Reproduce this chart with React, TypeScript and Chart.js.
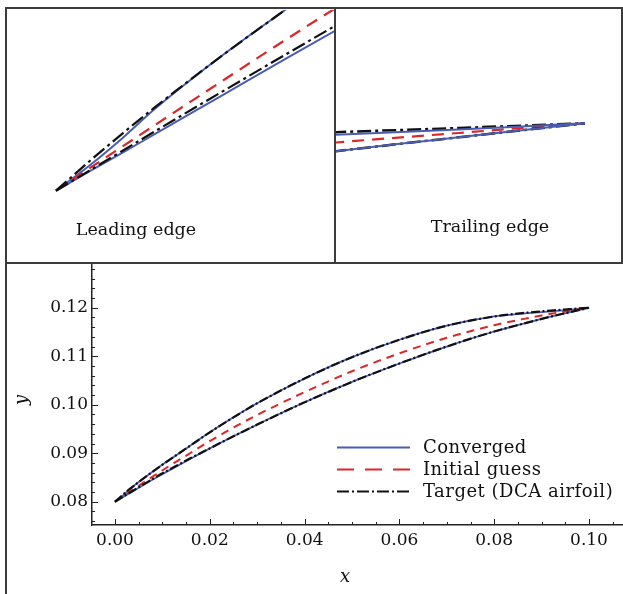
import React, { useEffect, useRef } from "react";
import { Chart, registerables } from "chart.js";

Chart.register(...registerables);

// ---------------- data ----------------
const xs = [0, 0.001, 0.002, 0.003, 0.005, 0.007, 0.009, 0.012, 0.016, 0.02, 0.025, 0.03, 0.04, 0.05, 0.06, 0.07, 0.08, 0.086, 0.09, 0.092, 0.094, 0.096, 0.098, 0.1];

const targetUpper = [0.08, 0.08088, 0.08172, 0.08253, 0.08407, 0.08552, 0.08694, 0.08898, 0.09165, 0.0943, 0.0974, 0.1003, 0.1054, 0.1098, 0.1134, 0.1163, 0.1182, 0.1189, 0.11925, 0.11942, 0.11956, 0.1197, 0.11985, 0.12];
const targetLower = [0.08, 0.0806, 0.0812, 0.0818, 0.08298, 0.08415, 0.0853, 0.0869, 0.089, 0.091, 0.0935, 0.0959, 0.1005, 0.1047, 0.1085, 0.112, 0.1151, 0.11668, 0.1177, 0.11818, 0.11865, 0.1191, 0.11955, 0.12];
const initialGuess = [0.08, 0.08067, 0.08133, 0.08199, 0.0833, 0.0846, 0.08586, 0.0877, 0.0901, 0.0925, 0.0953, 0.0979, 0.1026, 0.1069, 0.1106, 0.1138, 0.1164, 0.11765, 0.1184, 0.11875, 0.11907, 0.11938, 0.1197, 0.12];
const convergedUpper = [0.08, 0.08075, 0.08158, 0.08248, 0.08407, 0.08552, 0.08694, 0.08898, 0.09165, 0.0943, 0.0974, 0.1003, 0.1054, 0.1098, 0.1134, 0.1163, 0.1182, 0.1188, 0.1191, 0.11925, 0.11942, 0.1196, 0.1198, 0.12];
const convergedLower = [0.08, 0.08058, 0.08114, 0.08172, 0.08287, 0.08402, 0.08515, 0.08678, 0.0889, 0.091, 0.0935, 0.0959, 0.1005, 0.1047, 0.1085, 0.112, 0.1151, 0.11668, 0.1177, 0.11818, 0.11865, 0.1191, 0.11955, 0.12];

const xTickValues = [0, 0.02, 0.04, 0.06, 0.08, 0.1];
const yTickValues = [0.08, 0.09, 0.1, 0.11, 0.12];
const legendLabels = ["Converged", "Initial guess", "Target (DCA airfoil)"];
const leadingLabel = "Leading edge";
const trailingLabel = "Trailing edge";
const xTitle = "x";
const yTitle = "y";

// ---------------- styles ----------------
const BLUE = "#4a5db5";
const RED = "#d9272a";
const BLACK = "#111111";
const AXIS = "#222222";
const SERIF = "'DejaVu Serif', serif";

const pts = (ys: number[]) => xs.map((x, i) => ({ x, y: ys[i] }));

type Style = {
  bw: number; rw: number; kw: number;
  dash: number[]; dashDot: number[];
  order: { conv: number; init: number; target: number };
};

function makeDatasets(s: Style) {
  const base = { pointRadius: 0, fill: false, cubicInterpolationMode: "monotone" as const, borderCapStyle: "butt" as const };
  return [
    { ...base, label: "Target upper", data: pts(targetUpper), borderColor: BLACK, borderWidth: s.kw, borderDash: s.dashDot, order: s.order.target },
    { ...base, label: "Target lower", data: pts(targetLower), borderColor: BLACK, borderWidth: s.kw, borderDash: s.dashDot, order: s.order.target },
    { ...base, label: "Initial guess", data: pts(initialGuess), borderColor: RED, borderWidth: s.rw, borderDash: s.dash, order: s.order.init },
    { ...base, label: "Converged upper", data: pts(convergedUpper), borderColor: BLUE, borderWidth: s.bw, order: s.order.conv },
    { ...base, label: "Converged lower", data: pts(convergedLower), borderColor: BLUE, borderWidth: s.bw, order: s.order.conv },
  ];
}

function panelConfig(xMin: number, xMax: number, yMin: number, yMax: number, style: Style, label: string, lx: number, ly: number): any {
  return {
    type: "line",
    data: { datasets: makeDatasets(style) },
    options: {
      animation: false,
      responsive: false,
      events: [],
      layout: { padding: 0 },
      plugins: { legend: { display: false }, tooltip: { enabled: false } },
      scales: {
        x: { type: "linear", display: false, min: xMin, max: xMax },
        y: { type: "linear", display: false, min: yMin, max: yMax },
      },
    },
    plugins: [
      {
        id: "panelLabel",
        afterDraw(chart: any) {
          const ctx = chart.ctx;
          ctx.save();
          ctx.fillStyle = "#111";
          ctx.font = `17.5px ${SERIF}`;
          ctx.textAlign = "center";
          ctx.textBaseline = "alphabetic";
          ctx.fillText(label, lx, ly);
          ctx.restore();
        },
      },
    ],
  };
}

const mainDecor = {
  id: "mainDecor",
  afterDraw(chart: any) {
    const { ctx, chartArea } = chart;
    const xs_ = chart.scales.x;
    const ys_ = chart.scales.y;
    ctx.save();
    ctx.strokeStyle = AXIS;
    ctx.lineWidth = 1;
    // x ticks (inside)
    for (let k = -1; k <= 22; k++) {
      const v = k * 0.005;
      if (v < xs_.min || v > xs_.max) continue;
      const px = Math.round(xs_.getPixelForValue(v)) + 0.5;
      const major = k % 4 === 0;
      ctx.beginPath();
      ctx.moveTo(px, chartArea.bottom);
      ctx.lineTo(px, chartArea.bottom - (major ? 6 : 3));
      ctx.stroke();
    }
    // y ticks (inside)
    for (let k = 36; k <= 65; k++) {
      const v = k * 0.002;
      if (v < ys_.min || v > ys_.max) continue;
      const py = Math.round(ys_.getPixelForValue(v)) + 0.5;
      const major = k % 5 === 0;
      ctx.beginPath();
      ctx.moveTo(chartArea.left, py);
      ctx.lineTo(chartArea.left + (major ? 6 : 3), py);
      ctx.stroke();
    }
    // axis titles
    ctx.fillStyle = "#111";
    ctx.font = `italic 18px ${SERIF}`;
    ctx.textAlign = "center";
    ctx.textBaseline = "middle";
    ctx.fillText(xTitle, 339, 314);
    ctx.save();
    ctx.translate(16, 137);
    ctx.rotate(-Math.PI / 2);
    ctx.fillText(yTitle, 0, 0);
    ctx.restore();

    // legend
    const rows = [184, 206, 228];
    const styles = [
      { c: BLUE, w: 2, d: [] as number[] },
      { c: RED, w: 2.2, d: [17, 11] },
      { c: BLACK, w: 2.2, d: [12, 3, 2, 3] },
    ];
    legendLabels.forEach((t, i) => {
      const y = rows[i];
      ctx.beginPath();
      ctx.setLineDash(styles[i].d);
      ctx.strokeStyle = styles[i].c;
      ctx.lineWidth = styles[i].w;
      ctx.moveTo(331, y + 0.5);
      ctx.lineTo(404, y + 0.5);
      ctx.stroke();
      ctx.setLineDash([]);
      ctx.fillStyle = "#111";
      ctx.font = `18px ${SERIF}`;
      try { (ctx as any).letterSpacing = "0.5px"; } catch (e) {}
      ctx.textAlign = "left";
      ctx.textBaseline = "alphabetic";
      ctx.fillText(t, 417, y + 6);
      try { (ctx as any).letterSpacing = "0px"; } catch (e) {}
    });
    ctx.restore();
  },
};

function mainConfig(): any {
  const style: Style = {
    bw: 1.8, rw: 2, kw: 2.2,
    dash: [8, 6], dashDot: [9, 2.5, 2, 2.5],
    order: { target: 0, init: 1, conv: 2 },
  };
  return {
    type: "line",
    data: { datasets: makeDatasets(style) },
    options: {
      animation: false,
      responsive: false,
      events: [],
      layout: { padding: { top: 2, right: 0, left: 0, bottom: 0 } },
      plugins: { legend: { display: false }, tooltip: { enabled: false } },
      scales: {
        x: {
          type: "linear",
          min: -0.00485,
          max: 0.10717,
          afterBuildTicks: (s: any) => { s.ticks = xTickValues.map((v) => ({ value: v })); },
          afterFit: (s: any) => { s.height = 69; s.paddingLeft = 0; s.paddingRight = 0; },
          ticks: {
            autoSkip: false, maxRotation: 0, padding: 5, color: "#111",
            font: { family: SERIF, size: 17 },
            callback: (v: any) => Number(v).toFixed(2),
          },
          grid: { display: false, drawTicks: false },
          border: { display: true, color: AXIS, width: 1.5 },
        },
        y: {
          type: "linear",
          min: 0.0752,
          max: 0.12881,
          afterBuildTicks: (s: any) => { s.ticks = yTickValues.map((v) => ({ value: v })); },
          afterFit: (s: any) => { s.width = 86; s.paddingTop = 0; s.paddingBottom = 0; },
          ticks: {
            autoSkip: false, padding: 4, color: "#111",
            font: { family: SERIF, size: 17 },
            callback: (v: any) => Number(v).toFixed(2),
          },
          grid: { display: false, drawTicks: false },
          border: { display: true, color: AXIS, width: 1.5 },
        },
      },
    },
    plugins: [mainDecor],
  };
}

export default function App() {
  const leRef = useRef<HTMLCanvasElement>(null);
  const teRef = useRef<HTMLCanvasElement>(null);
  const mainRef = useRef<HTMLCanvasElement>(null);

  useEffect(() => {
    const leStyle: Style = {
      bw: 2, rw: 2.2, kw: 2.2, dash: [12, 8], dashDot: [14, 4, 3, 4],
      order: { target: 0, init: 1, conv: 2 },
    };
    const teStyle: Style = {
      bw: 2, rw: 2.2, kw: 2.5, dash: [12, 8], dashDot: [14, 4, 3, 4],
      order: { conv: 0, target: 1, init: 2 },
    };
    const charts = [
      new Chart(leRef.current!, panelConfig(-0.001459, 0.00845, 0.077863, 0.085492, leStyle, leadingLabel, 128, 225)),
      new Chart(teRef.current!, panelConfig(0.09212, 0.101139, 0.111173, 0.127263, teStyle, trailingLabel, 154, 222)),
      new Chart(mainRef.current!, mainConfig()),
    ];
    return () => charts.forEach((c) => c.destroy());
  }, []);

  const line = "#3c3c3c";
  return (
    <div style={{ position: "fixed", left: 0, top: 0, width: 623, height: 594, background: "#fff", overflow: "hidden" }}>
      <canvas ref={leRef} width={326} height={251} style={{ position: "absolute", left: 8, top: 10 }} />
      <canvas ref={teRef} width={285} height={251} style={{ position: "absolute", left: 336, top: 10 }} />
      <canvas ref={mainRef} width={617} height={331} style={{ position: "absolute", left: 6, top: 263 }} />
      <div style={{ position: "absolute", left: 5, top: 7, width: 618, height: 257, border: `2px solid ${line}`, boxSizing: "border-box" }} />
      <div style={{ position: "absolute", left: 334, top: 7, width: 2, height: 257, background: line }} />
      <div style={{ position: "absolute", left: 5, top: 263, width: 2, height: 331, background: line }} />
    </div>
  );
}
